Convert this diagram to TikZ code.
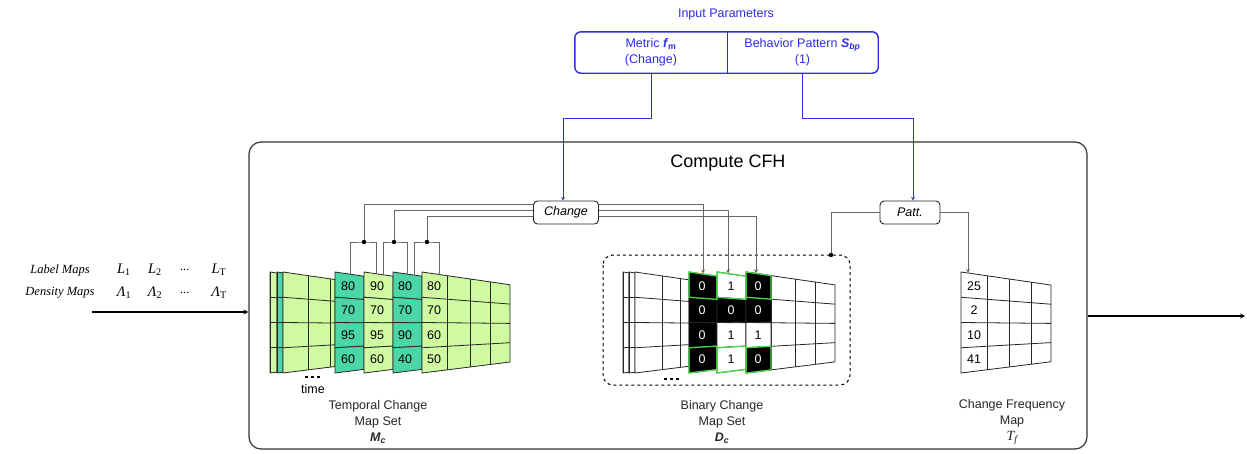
\documentclass[tikz,border=0pt]{standalone}
\usepackage{fontspec}
\setmainfont{Liberation Sans}
\newfontfamily\timesfont{Liberation Serif}
\usetikzlibrary{arrows,positioning,shapes}
\definecolor{mapgreen}{RGB}{208,250,162}
\definecolor{mapteal}{RGB}{74,214,166}
\definecolor{parblue}{RGB}{45,45,225}
\definecolor{cellgreen}{RGB}{70,215,70}

\newcommand{\mapslab}[4]{%
	\pgfmathsetmacro\ytr{272+0.145*#2}
	\pgfmathsetmacro\ybr{373-0.125*#2}
	\filldraw[fill=#3,mapline] (#1,272) -- (#1+#2,\ytr) -- (#1+#2,\ybr) -- (#1,373) -- cycle;
	\foreach \k in {1,2,3}
		\draw[mapline] (#1,272+\k*25.25) -- (#1+#2,{\ytr+\k*(\ybr-\ytr)/4});
	\foreach \c in {#4}
		\draw[mapline] (#1+\c,272+0.145*\c) -- (#1+\c,373-0.125*\c);
}
\newcommand{\mapcell}[4]{%
	\pgfmathsetmacro\ytr{272+0.145*#2}
	\pgfmathsetmacro\ybr{373-0.125*#2}
	\pgfmathsetmacro\yc{\ytr+#3*(\ybr-\ytr)/4}
	\pgfmathsetmacro\yd{\ytr+(#3+1)*(\ybr-\ytr)/4}
	\draw[#4] (#1,272+#3*25.25) -- (#1+#2,\yc) -- (#1+#2,\yd) -- (#1,272+#3*25.25+25.25) -- cycle;
}
\newcommand{\tsym}[2]{{\itshape #1}\textsubscript{\upshape #2}}

\begin{document}
\begin{tikzpicture}[x=1pt,y=-1pt,font=\fontsize{12.5}{16}\selectfont,
	mapline/.style={draw=black!85,line width=0.8pt},
	link/.style={draw=black!60,line width=0.8pt},
	bluelink/.style={draw=parblue,line width=0.7pt,-stealth},
	opbox/.style={draw=black!85,line width=0.9pt,rounded corners=4pt,minimum height=23,font=\fontsize{12.5}{16}\selectfont\itshape},
	serif/.style={font=\timesfont\itshape\fontsize{12.5}{16}\selectfont},
	symb/.style={font=\timesfont\fontsize{14.5}{16}\selectfont},
	caption/.style={align=center,text=black!85}]
	\useasboundingbox (0,0) rectangle (1247,453);

	% input parameters
	\node[text=parblue] (inpar) at (726,14) {Input Parameters};
	\node[minimum width=152,minimum height=41,inner sep=0,align=center,text=parblue] (met) at (651,52.5) {Metric \textbf{\textit{f}}\textsubscript{\textbf{m}}\\(Change)};
	\node[minimum width=151,minimum height=41,inner sep=0,align=center,text=parblue] (bhv) at (802.5,52.5) {Behavior Pattern \textbf{\textit{S}}\textsubscript{\textbf{\textit{bp}}}\\(1)};
	\draw[parblue,line width=1.4pt,rounded corners=6pt] (met.north west) rectangle (bhv.south east);
	\draw[parblue,line width=0.7pt] (met.north east) -- (met.south east);

	% main block
	\node[draw=black!80,line width=1.2pt,rounded corners=12pt,minimum width=838,minimum height=307] (cfh) at (668,295.5) {};
	\node[font=\fontsize{18}{20}\selectfont] (cfhtitle) at (728,163) {Compute CFH};

	\node[opbox,minimum width=65] (chg) at (566,212.5) {Change};
	\node[opbox,minimum width=60] (patt) at (910,212.5) {Patt.};

	\draw[bluelink] (met.south) -- ++(0,45) -| ([xshift=-3pt]chg.north);
	\draw[bluelink] (bhv.south) -- ++(0,45) -| ([xshift=3pt]patt.north);

	% inputs
	\node[serif] (lblmaps) at (60,270) {Label Maps};
	\node[serif] (denmaps) at (60,293) {Density Maps};
	\node[symb] (l1) at (124,270) {\tsym{L}{1}};
	\node[symb] (l2) at (155,270) {\tsym{L}{2}};
	\node[serif] (ldots) at (185,270) {...};
	\node[symb] (lt) at (219,270) {\tsym{L}{T}};
	\node[symb] (d1) at (124,293) {\tsym{Λ}{1}};
	\node[symb] (d2) at (155,293) {\tsym{Λ}{2}};
	\node[serif] (ddots) at (185,293) {...};
	\node[symb] (dt) at (219,293) {\tsym{Λ}{T}};
	\coordinate (src) at (92,312);
	\coordinate (dst) at (1245,316);
	\draw[line width=1.2pt,-stealth] (src) -- (src -| cfh.west);
	\draw[line width=1.2pt,-stealth] (cfh.east |- dst) -- (dst);

	% temporal change map set
	\mapslab{270}{7}{mapgreen}{0}
	\mapslab{277}{6}{mapteal}{0}
	\mapslab{283}{52}{mapgreen}{25,47}
	\foreach \k in {0,...,3} \mapcell{335}{29}{\k}{mapline,fill=mapteal};
	\foreach \k in {0,...,3} \mapcell{364}{29}{\k}{mapline,fill=mapgreen};
	\foreach \k in {0,...,3} \mapcell{393}{29}{\k}{mapline,fill=mapteal};
	\mapslab{422}{88}{mapgreen}{25,48,68}
	\foreach \v [count=\r] in {80,70,95,60} \node (ma\r) at (348,{272+(\r-0.5)*24.4+2}) {\v};
	\foreach \v [count=\r] in {90,70,95,60} \node (mb\r) at (377,{272+(\r-0.5)*24.4+2}) {\v};
	\foreach \v [count=\r] in {80,70,90,40} \node (mc\r) at (405,{272+(\r-0.5)*24.4+2}) {\v};
	\foreach \v [count=\r] in {80,70,60,50} \node (md\r) at (434,{272+(\r-0.5)*24.4+2}) {\v};
	\draw[line width=1.5pt,dash pattern=on 3pt off 3pt] (305,377) -- (322,377);
	\node (time) at (313,389) {time};
	\node[caption] (mclbl) at (378,422) {Temporal Change\\Map Set\\\textbf{\textit{M}}\textsubscript{\textbf{\textit{c}}}};

	% binary change map set
	\draw[line width=1pt,dashed,rounded corners=10pt] (603,255) rectangle (850,385);
	\mapslab{623}{6}{white}{0}
	\mapslab{629}{6}{white}{0}
	\mapslab{635}{54}{white}{27,45}
	\foreach \k/\f in {0/black,1/black,2/black,3/black} \mapcell{689}{28}{\k}{mapline,fill=\f};
	\foreach \k/\f in {0/white,1/black,2/white,3/white} \mapcell{717}{29}{\k}{mapline,fill=\f};
	\mapslab{746}{89}{white}{25,49,69}
	\foreach \k/\f in {0/black,1/black,2/white,3/black} \mapcell{746}{25}{\k}{mapline,fill=\f};
	\foreach \x/\w in {689/28,717/29,746/25} {
		\mapcell{\x}{\w}{0}{draw=cellgreen,line width=1.3pt};
		\mapcell{\x}{\w}{3}{draw=cellgreen,line width=1.3pt};
	}
	\foreach \v/\c [count=\r] in {0/white,0/white,0/white,0/white} \node[text=\c] (ba\r) at (702,{272+(\r-0.5)*24.4+2}) {\v};
	\foreach \v/\c [count=\r] in {1/black,0/white,1/black,1/black} \node[text=\c] (bb\r) at (731,{272+(\r-0.5)*24.4+2}) {\v};
	\foreach \v/\c [count=\r] in {0/white,0/white,1/black,0/white} \node[text=\c] (bc\r) at (758,{272+(\r-0.5)*24.4+2}) {\v};
	\draw[line width=1.5pt,dash pattern=on 3pt off 3pt] (664,379) -- (681,379);
	\node[caption] (dclbl) at (722,422) {Binary Change\\Map Set\\\textbf{\textit{D}}\textsubscript{\textbf{\textit{c}}}};

	% change frequency map
	\mapslab{961}{90}{white}{26,48,70}
	\foreach \v [count=\r] in {25,2,10,41} \node (fr\r) at (974,{272+(\r-0.5)*24.4+2}) {\v};
	\node[caption] (tflbl) at (1012,422) {Change Frequency\\Map\\{\timesfont\itshape\fontsize{14}{16}\selectfont T\textsubscript{f}}};

	% change links
	\coordinate (j1) at (364,242);
	\coordinate (j2) at (394,242);
	\coordinate (j3) at (427,242);
	\coordinate (p1a) at (350,274.2);
	\coordinate (p1b) at (376,273.7);
	\coordinate (p2a) at (383,274.8);
	\coordinate (p2b) at (407,274.1);
	\coordinate (p3a) at (414,275.1);
	\coordinate (p3b) at (439,274.5);
	\draw[link] ([yshift=8pt]chg.west) -| (j1);
	\draw[link] ([yshift=2pt]chg.west) -| (j2);
	\draw[link] ([yshift=-4pt]chg.west) -| (j3);
	\draw[link] (p1a) |- (j1) -| (p1b);
	\draw[link] (p2a) |- (j2) -| (p2b);
	\draw[link] (p3a) |- (j3) -| (p3b);
	\foreach \j in {j1,j2,j3} \fill (\j) circle (2.2);
	\coordinate (c1) at (703,273.5);
	\coordinate (c2) at (728,273.5);
	\coordinate (c3) at (756,273.3);
	\draw[link,-stealth] ([yshift=8pt]chg.east) -| (c1);
	\draw[link,-stealth] ([yshift=2pt]chg.east) -| (c2);
	\draw[link,-stealth] ([yshift=-4pt]chg.east) -| (c3);

	% pattern links
	\coordinate (dtop) at (831,255);
	\coordinate (ftop) at (968,273);
	\draw[link] (patt.west) -| (dtop);
	\fill (dtop) circle (2.2);
	\draw[link,-stealth] (patt.east) -| (ftop);
\end{tikzpicture}
\end{document}
